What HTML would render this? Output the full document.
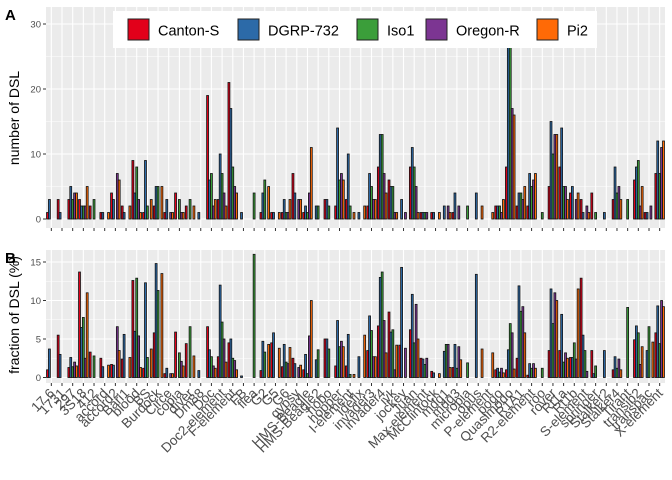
<!DOCTYPE html>
<html><head><meta charset="utf-8"><style>
body{margin:0;background:#fff;}
svg{display:block;font-family:"Liberation Sans",sans-serif;}
</style></head><body>
<svg id="chart" width="672" height="480"></svg>
<script>
const categories=["17.6","1731","297","3S18","412","accord","accord2","Bari1","blood","BS","Burdock","Circe","copia","diver","Dm88","Doc","Doc2-element","F-element","FB","flea","G2","G5","G6","gypsy","HMS-Beagle","HMS-Beagle2","hobo","hopper","I-element","Idefix","invader3","invader4","ivk","jockey","Juan","Max-element","McClintock","mdg1","mdg3","micropia","opus","P-element","pogo","Quasimodo","R1A1","R2-element","roo","rover","Rt1a","Rt1b","S-element","springer","Stalker2","Stalker4","Tirant","transib2","transpac","X-element"];
const strains=["Canton-S","DGRP-732","Iso1","Oregon-R","Pi2"];
const colors=["#e2001a","#2c6aa8","#3b9e3a","#7c3592","#ff6a06"];
const countsTop=[[1,3,0,0,0],[3,1,0,0,0],[3,5,3,4,4],[3,2,2,2,5],[2,0,3,0,0],[1,1,0,0,1],[4,3,0,7,6],[2,1,0,0,2],[9,4,8,3,1],[1,9,2,0,3],[2,5,5,0,5],[1,3,0,1,1],[4,0,3,1,1],[2,0,3,0,2],[0,1,0,0,0],[19,6,7,2,3],[3,10,7,4,2],[21,17,8,5,4],[0,1,0,0,0],[0,0,4,0,0],[1,4,6,0,5],[1,1,0,0,1],[1,3,1,1,3],[7,4,0,3,3],[1,2,1,4,11],[0,2,2,0,0],[3,3,2,0,0],[2,14,6,7,6],[3,10,2,0,1],[0,1,0,0,2],[2,7,5,3,3],[8,13,13,7,4],[6,5,5,1,1],[0,3,0,1,0],[8,11,8,5,1],[1,1,1,1,0],[1,1,0,0,1],[0,2,0,2,1],[1,4,0,2,0],[0,0,2,0,0],[0,4,0,0,2],[0,0,0,0,1],[2,2,2,1,3],[8,27,27,17,16],[2,4,4,3,5],[2,7,5,6,7],[0,0,1,0,0],[5,15,10,13,13],[8,14,5,5,3],[4,5,0,3,4],[3,1,0,2,1],[4,0,1,0,0],[0,1,0,0,0],[3,8,4,5,3],[0,0,3,0,0],[6,8,9,2,5],[1,1,0,2,0],[7,12,7,11,12]];
const fracBottom=[[1,3.7,0,0,0],[5.5,3,0,0,0],[1.3,2.6,1.4,2,1.5],[13.7,6.5,7.8,2.5,11],[3.3,0,2.8,0,0],[2.5,1.4,0,0,1.6],[1.7,1.6,0,6.6,3.5],[2.4,5.6,0,0,2.6],[12.6,6,12.9,5.4,1.3],[1.2,12.3,2.6,0,3.7],[5.8,14.8,11.3,0,13.5],[0.5,1.2,0,0.5,0.5],[5.9,0,3.2,2.1,1.5],[4.4,0,6.6,0,2.8],[0,0.9,0,0,0],[6.6,3.6,2.7,1.5,1.2],[2.7,12,7.2,5,2],[4.5,5,2.5,2.2,1],[0,0.2,0,0,0],[0,0,16,0,0],[0.9,4.7,3.3,0,4.3],[4.5,5.8,0,0,3.8],[1.4,4.3,2,1.8,3.9],[2.5,1.8,0,1.3,1.6],[1,3,0.5,5.4,10],[0,2.3,3.6,0,0],[5,5,3.7,0,0],[1.5,7.4,4,4.7,4],[1.5,5.6,0.4,0,0.4],[0,2.7,0,0,5.5],[3.5,8,6.1,2.7,2.7],[6.7,13,13.7,7.4,3.2],[8.5,5.9,6.2,1,4.2],[4.2,14.3,0,3.8,0],[6.2,10.8,4.5,9.5,5],[2.5,2.4,1.7,2.5,0],[0.8,0.6,0,0,0.5],[0,3.4,4.3,4.3,1.3],[1.3,4.3,1.2,4,2.3],[0,0,1.9,0,0],[0,13.4,0,0,3.7],[0,0,0,0,3.2],[1,1.2,0.7,1.2,0.6],[1,3.6,7,5.8,1.1],[2.5,11.9,8.6,9.2,5.8],[0.3,1.8,1.2,1.8,1.2],[0,0,1.2,0,0],[3.5,11.5,7,11,10],[3.5,8.2,2,3.2,2.5],[2.6,2.6,4.5,2.4,11.5],[12.9,5.5,3.5,0.8,0],[3.5,0.5,1.5,0,0],[0,3.5,0,0,0],[1,2.7,1.2,2.4,1],[0,0,9.1,0,0],[4.9,6.7,5.8,1.7,4],[0,3.5,6.6,0,4.6],[5.8,9.3,4.4,10,9.2]];
const ticksTop=[0,10,20,30];
const ticksBottom=[0,5,10,15];

const NS="http://www.w3.org/2000/svg";
const svg=document.getElementById("chart");
function mk(tag,attrs,parent){const e=document.createElementNS(NS,tag);for(const k in attrs)e.setAttribute(k,attrs[k]);(parent||svg).appendChild(e);return e;}
const X0=46,X1=665,N=categories.length;
const step=(X1-X0)/N;
function xc(i){return X0+step*(i+0.5);}
const bw=step*0.9/5;

function panel(name,top,bottom,y0,ppu,ticks,minor,data,axisTitle,titleY){
  const g=mk("g",{});
  
  
  const ys=v=>y0-v*ppu;
  const bg=mk("rect",{x:X0,y:top,width:X1-X0,height:bottom-top,fill:"#ebebeb"},g);
  
  
  minor.forEach(v=>{mk("line",{x1:X0,x2:X1,y1:ys(v),y2:ys(v),stroke:"#fff","stroke-width":0.5},g);});
  ticks.forEach(v=>{
    const l=mk("line",{x1:X0,x2:X1,y1:ys(v),y2:ys(v),stroke:"#fff","stroke-width":1.1},g);
    
    
    mk("line",{x1:X0-3,x2:X0,y1:ys(v),y2:ys(v),stroke:"#333","stroke-width":1},g);
    const t=mk("text",{x:X0-5,y:ys(v)+3.3,"text-anchor":"end","font-size":"9.5",fill:"#4d4d4d"},g);
    t.textContent=v;
    
    
  });
  for(let i=0;i<N;i++){
    mk("line",{x1:xc(i),x2:xc(i),y1:top,y2:bottom,stroke:"#fff","stroke-width":1.1},g);
    mk("line",{x1:xc(i),x2:xc(i),y1:bottom,y2:bottom+3,stroke:"#333","stroke-width":1},g);
  }
  data.forEach((vals,i)=>{
    vals.forEach((v,s)=>{
      const x=xc(i)-2.5*bw+s*bw;
      const r=mk("rect",{x:x,y:ys(v),width:bw,height:Math.max(0,v*ppu),fill:colors[s],stroke:"#111","stroke-width":0.8},g);
      
      
    });
  });
  const at=mk("text",{x:0,y:0,transform:"translate(19,"+titleY+") rotate(-90)","text-anchor":"middle","font-size":"14",fill:"#000"},g);
  at.textContent=axisTitle;
  
  
  return g;
}
panel("panel-a",7,228,219,6.5,ticksTop,[5,15,25],countsTop,"number of DSL",118);
panel("panel-b",250,383,377.5,7.7,ticksBottom,[2.5,7.5,12.5],fracBottom,"fraction of DSL (%)",315);

categories.forEach((c,i)=>{
  const t=mk("text",{x:0,y:0,transform:"translate("+(xc(i)+4)+",394) rotate(-45)","text-anchor":"end","font-size":"13.5",fill:"#4d4d4d"});
  t.textContent=c;
  
  
});

const A=mk("text",{x:5,y:20,"font-size":"15","font-weight":"bold",fill:"#000"});A.textContent="A";


const B=mk("text",{x:5,y:263,"font-size":"15","font-weight":"bold",fill:"#000"});B.textContent="B";



const lg=mk("g",{});


mk("rect",{x:113,y:11,width:484,height:37,fill:"#fff"},lg);
const keyX=[128,238,357,426,537];
strains.forEach((s,i)=>{
  const k=mk("rect",{x:keyX[i],y:19,width:21,height:21,fill:colors[i],stroke:"#222","stroke-width":1},lg);
  
  
  const t=mk("text",{x:keyX[i]+30,y:35.5,"font-size":"14.5",fill:"#000"},lg);
  t.textContent=s;
  
  
});
</script>
</body></html>
